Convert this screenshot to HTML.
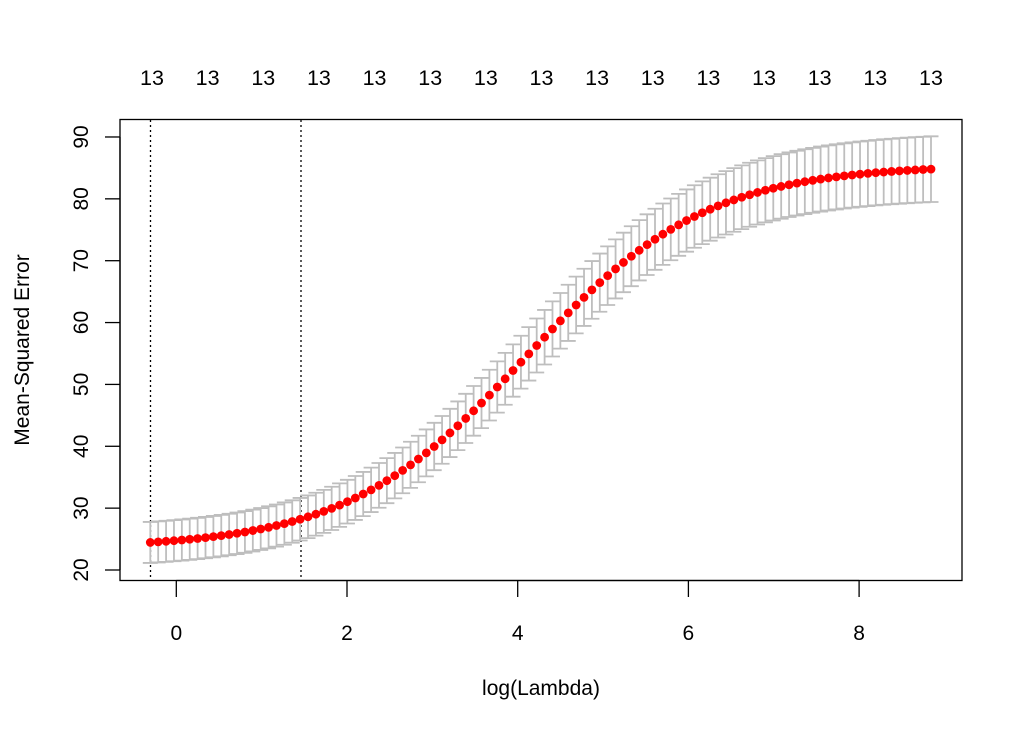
<!DOCTYPE html>
<html><head><meta charset="utf-8"><style>
html,body{margin:0;padding:0;background:#fff;}
svg{display:block;font-family:"Liberation Sans",Arial,sans-serif;}
</style></head><body>
<svg id="s" width="1024" height="731" viewBox="0 0 1024 731" xmlns="http://www.w3.org/2000/svg">
<rect x="120" y="119.5" width="842" height="461" fill="none" stroke="#000" stroke-width="1.3"/>
<g stroke="#000" stroke-width="1.3">
<line x1="176.3" y1="580.5" x2="176.3" y2="597"/>
<line x1="347" y1="580.5" x2="347" y2="597"/>
<line x1="517.7" y1="580.5" x2="517.7" y2="597"/>
<line x1="688.4" y1="580.5" x2="688.4" y2="597"/>
<line x1="859.1" y1="580.5" x2="859.1" y2="597"/>
<line x1="176.3" y1="580.5" x2="859.1" y2="580.5"/>
<line x1="120" y1="137" x2="120" y2="570"/>
</g>
<g font-size="21" text-anchor="middle" fill="#000">
<text x="176.3" y="640">0</text><text x="347" y="640">2</text><text x="517.7" y="640">4</text><text x="688.4" y="640">6</text><text x="859.1" y="640">8</text>
<text x="541" y="695">log(Lambda)</text>
<text transform="translate(29,350) rotate(-90)">Mean-Squared Error</text>
</g>
<g id="yt" stroke="#000" stroke-width="1.3"></g>
<g id="yl" font-size="21" text-anchor="middle"></g>
<g id="top" font-size="21.5" text-anchor="middle"></g>
<line x1="150.5" y1="120" x2="150.5" y2="580" stroke="#000" stroke-width="1.3" stroke-dasharray="2,3"/>
<line x1="301" y1="120" x2="301" y2="580" stroke="#000" stroke-width="1.3" stroke-dasharray="2,3"/>
<g id="eb" stroke="#bebebe" stroke-width="1.8" fill="none"></g>
<g id="pts" fill="#ff0000"></g>
</svg>
<script>
var NS="http://www.w3.org/2000/svg";
function el(p,t,a,txt){var e=document.createElementNS(NS,t);for(var k in a)e.setAttribute(k,a[k]);if(txt!=null)e.textContent=txt;document.getElementById(p).appendChild(e);}
function Y(v){return 570-(v-20)*6.186;}
for(var v=20;v<=90;v+=10){var y=Y(v);el("yt","line",{x1:105,y1:y,x2:120,y2:y});el("yl","text",{transform:"translate(88,"+y+") rotate(-90)"},v);}
for(var i=0;i<15;i++){el("top","text",{x:152+i*55.64,y:85},"13");}
var N=100;
for(var i=0;i<N;i++){
 var x=150.3+i*(931-150.3)/(N-1);
 var t=(x-176.3)/85.35;
 var v=23.5+62/(1+Math.exp(-(t-4.1)/1.06));
 var w=3.3+(v-24)*0.033;
 var yu=Y(v+w),yd=Y(v-w);
 el("eb","path",{d:"M"+x+" "+yu+"V"+yd+"M"+(x-7.5)+" "+yu+"H"+(x+7.5)+"M"+(x-7.5)+" "+yd+"H"+(x+7.5)});
 el("pts","circle",{cx:x,cy:Y(v),r:4.4});
}
</script>
</body></html>
